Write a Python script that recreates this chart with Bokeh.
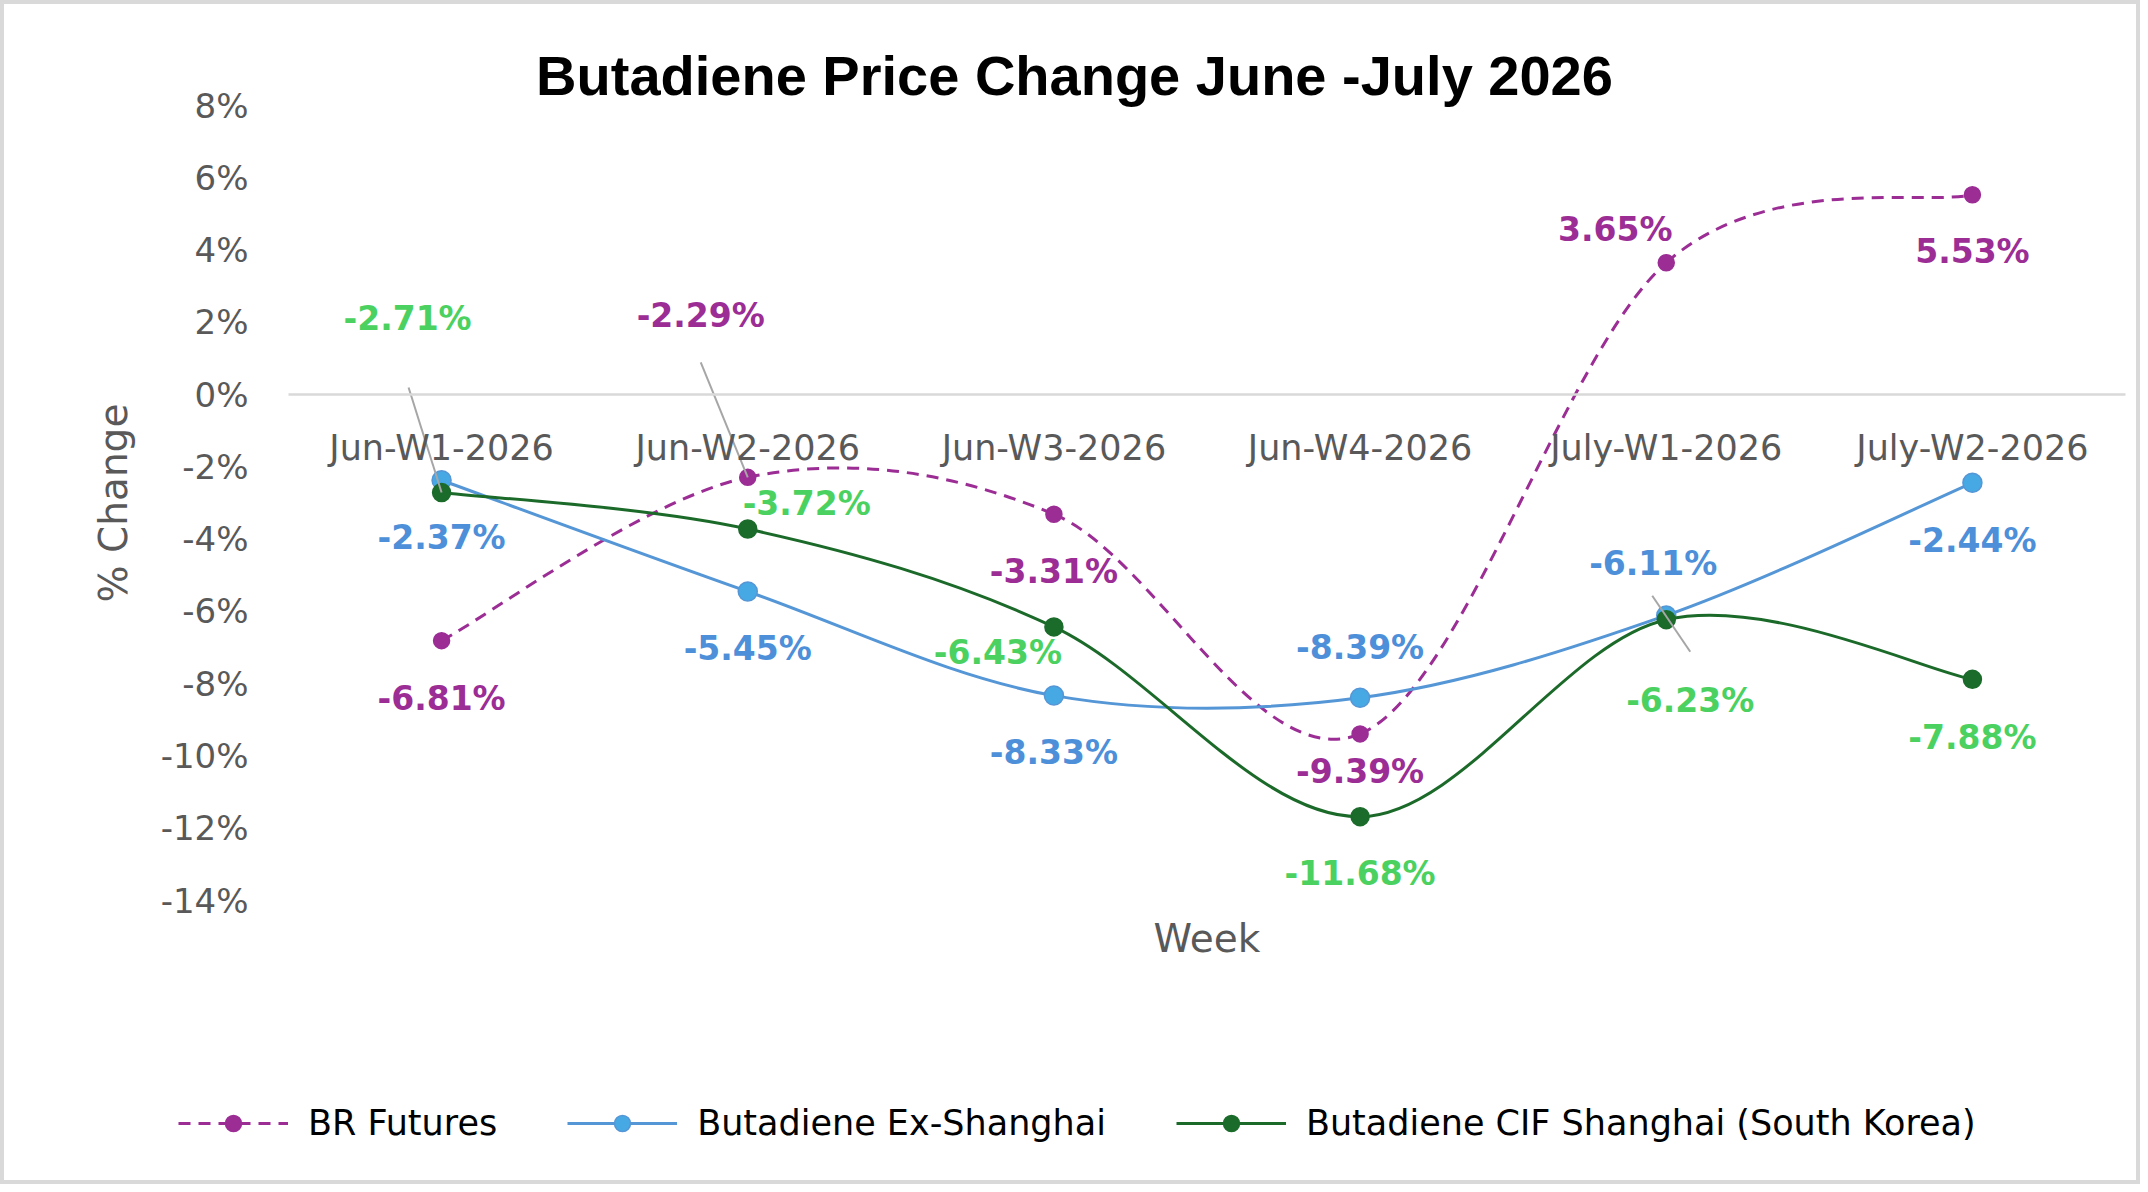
from bokeh.plotting import figure
from bokeh.models import (ColumnDataSource, Range1d, FixedTicker, PrintfTickFormatter,
                          LinearAxis, Legend, LegendItem, Label)
from bokeh.core.properties import value
from bokeh.embed import file_html
from bokeh.resources import INLINE

# ---- data -------------------------------------------------------------
weeks = ["Jun-W1-2026", "Jun-W2-2026", "Jun-W3-2026", "Jun-W4-2026",
         "July-W1-2026", "July-W2-2026"]
br_futures = [-6.81, -2.29, -3.31, -9.39, 3.65, 5.53]
ex_shanghai = [-2.37, -5.45, -8.33, -8.39, -6.11, -2.44]
cif_shanghai = [-2.71, -3.72, -6.43, -11.68, -6.23, -7.88]
y_ticks = [-14, -12, -10, -8, -6, -4, -2, 0, 2, 4, 6, 8]

# ---- layout: the frame fills the canvas, the plot box sits inside it ----
BORDER = 4
W, H = 2148 - 2 * BORDER, 1192 - 2 * BORDER
BOX_L, BOX_R, BOX_T, BOX_B = 284, 2121, 101, 896      # plotting box in canvas px
X_LO, X_HI = -0.5, len(weeks) - 0.5
Y_LO, Y_HI = y_ticks[0], y_ticks[-1]
PX_X = (BOX_R - BOX_L) / (X_HI - X_LO)
PX_Y = (BOX_B - BOX_T) / (Y_HI - Y_LO)
x_range = Range1d(X_LO - BOX_L / PX_X, X_HI + (W - BOX_R) / PX_X)
y_range = Range1d(Y_LO - (H - BOX_B) / PX_Y, Y_HI + BOX_T / PX_Y)


def at_px(px, py):
    """Canvas pixel -> data coordinates."""
    return x_range.start + px / PX_X, y_range.end - py / PX_Y


FONT = "DejaVu Sans"
GREY_TEXT = "#595959"

# label placement (pixel offsets from each marker, +dy = down)
series = [
    dict(name="BR Futures", vals=br_futures, line="#9b2d95", dash="12 8",
         fill="#9b2d95", edge="#9b2d95", size=16, lab="#9b2d95",
         offs=[(0, 58), (-47, -162), (0, 57), (0, 38), (-51, -33), (0, 57)],
         leaders={1: ((-47, -115), (0, 0))}),
    dict(name="Butadiene Ex-Shanghai", vals=ex_shanghai, line="#5596d6", dash="solid",
         fill="#47a9e3", edge="#5596d6", size=19, lab="#4d8fd8",
         offs=[(0, 57), (0, 57), (0, 57), (0, -50), (-13, -52), (0, 58)],
         leaders={}),
    dict(name="Butadiene CIF Shanghai (South Korea)", vals=cif_shanghai, line="#1c6a2a",
         dash="solid", fill="#1b6b2b", edge="#1b6b2b", size=18, lab="#4bd15f",
         offs=[(-34, -174), (59, -26), (-56, 26), (0, 57), (24, 81), (0, 58)],
         leaders={0: ((-33, -105), (0, 0)), 4: ((-14, -24), (24, 32))}),
]


def smooth_segments(vals):
    """Cubic Bezier pieces (Catmull-Rom style) through consecutive points."""
    n = len(vals)
    xs = list(range(n))
    d = {k: [] for k in ("x0", "y0", "x1", "y1", "cx0", "cy0", "cx1", "cy1")}
    for i in range(n - 1):
        a, b, c, e = max(i - 1, 0), i, i + 1, min(i + 2, n - 1)
        d["x0"].append(xs[b]); d["y0"].append(vals[b])
        d["x1"].append(xs[c]); d["y1"].append(vals[c])
        d["cx0"].append(xs[b] + (xs[c] - xs[a]) / 6)
        d["cy0"].append(vals[b] + (vals[c] - vals[a]) / 6)
        d["cx1"].append(xs[c] - (xs[e] - xs[b]) / 6)
        d["cy1"].append(vals[c] - (vals[e] - vals[b]) / 6)
    return d


p = figure(width=W, height=H, output_backend="svg", toolbar_location=None,
           x_range=x_range, y_range=y_range, title=None,
           min_border_left=0, min_border_right=0,
           min_border_top=0, min_border_bottom=0)
p.styles = {"border": f"{BORDER}px solid #d9d9d9"}
p.background_fill_color = "white"
p.border_fill_color = "white"
p.outline_line_color = None
p.xgrid.grid_line_color = None
p.ygrid.grid_line_color = None

# title
tx, ty = at_px(1070, 71)
p.add_layout(Label(x=tx, y=ty, text="Butadiene Price Change June -July 2026",
                   text_align="center", text_baseline="middle",
                   text_font="Liberation Sans", text_font_style="bold",
                   text_font_size="56px", text_color="black"))

# y axis, pinned to the left edge of the plotting box
ya = p.yaxis[0]
ya.fixed_location = X_LO
ya.bounds = (Y_LO, Y_HI)
ya.ticker = FixedTicker(ticks=y_ticks)
ya.formatter = PrintfTickFormatter(format="%d%%")
ya.axis_line_color = None
ya.major_tick_line_color = None
ya.minor_tick_line_color = None
ya.major_tick_out = 0
ya.major_label_standoff = 40
ya.major_label_text_font = FONT
ya.major_label_text_font_size = "34px"
ya.major_label_text_color = GREY_TEXT
ya.axis_label = "% Change"
ya.axis_label_text_font = FONT
ya.axis_label_text_font_size = "39px"
ya.axis_label_text_font_style = "normal"
ya.axis_label_text_color = GREY_TEXT
ya.axis_label_standoff = 22

# bottom edge of the plotting box carries only the "Week" title
xa = p.xaxis[0]
xa.fixed_location = Y_LO
xa.bounds = (X_LO, X_HI)
xa.ticker = FixedTicker(ticks=[])
xa.axis_line_color = None
xa.major_tick_line_color = None
xa.minor_tick_line_color = None
xa.major_tick_out = 0
xa.major_label_standoff = 0
xa.axis_label = "Week"
xa.axis_label_text_font = FONT
xa.axis_label_text_font_size = "39px"
xa.axis_label_text_font_style = "normal"
xa.axis_label_text_color = GREY_TEXT
xa.axis_label_standoff = 15

# category axis sitting on the zero line
cat_axis = LinearAxis(
    fixed_location=0, bounds=(X_LO, X_HI),
    ticker=FixedTicker(ticks=list(range(len(weeks)))),
    major_label_overrides={i: w for i, w in enumerate(weeks)},
    axis_line_color="#d9d9d9", axis_line_width=2.5,
    major_tick_line_color=None, minor_tick_line_color=None,
    major_tick_out=0, major_label_standoff=33,
    major_label_text_font=FONT, major_label_text_font_size="35px",
    major_label_text_color=GREY_TEXT,
)
p.add_layout(cat_axis, "below")

legend_items = []
label_rows = dict(x=[], y=[], t=[], c=[])
leader_rows = dict(x0=[], y0=[], x1=[], y1=[])

for s in series:
    xs = list(range(len(s["vals"])))
    seg = ColumnDataSource(smooth_segments(s["vals"]))
    br = p.bezier(x0="x0", y0="y0", x1="x1", y1="y1", cx0="cx0", cy0="cy0",
                  cx1="cx1", cy1="cy1", source=seg, line_color=s["line"],
                  line_width=3, line_dash=s["dash"])
    sr = p.scatter(xs, s["vals"], marker="circle", size=s["size"],
                   fill_color=s["fill"], line_color=s["edge"], line_width=1.5)
    legend_items.append(LegendItem(label=s["name"], renderers=[br, sr]))
    for i, v in enumerate(s["vals"]):
        dx, dy = s["offs"][i]
        label_rows["x"].append(i + dx / PX_X)
        label_rows["y"].append(v - dy / PX_Y)
        label_rows["t"].append(f"{v:.2f}%")
        label_rows["c"].append(s["lab"])
    for i, ((ax, ay), (bx, by)) in s["leaders"].items():
        v = s["vals"][i]
        leader_rows["x0"].append(i + ax / PX_X)
        leader_rows["y0"].append(v - ay / PX_Y)
        leader_rows["x1"].append(i + bx / PX_X)
        leader_rows["y1"].append(v - by / PX_Y)

p.segment(x0="x0", y0="y0", x1="x1", y1="y1", source=ColumnDataSource(leader_rows),
          line_color="#a6a6a6", line_width=2)

p.text(x="x", y="y", text="t", source=ColumnDataSource(label_rows),
       text_color="c", text_align="center", text_baseline="middle",
       text_font=value(FONT), text_font_style="bold",
       text_font_size=value("33px"))

legend = Legend(items=legend_items, orientation="horizontal",
                location=(174, 45),
                glyph_width=110, glyph_height=40, label_standoff=20, spacing=70,
                padding=0, margin=0, border_line_color=None,
                background_fill_alpha=0,
                label_text_font=FONT, label_text_font_size="35px",
                label_text_color="black")
p.add_layout(legend, "center")

open("out.html", "w").write(file_html(p, INLINE))
